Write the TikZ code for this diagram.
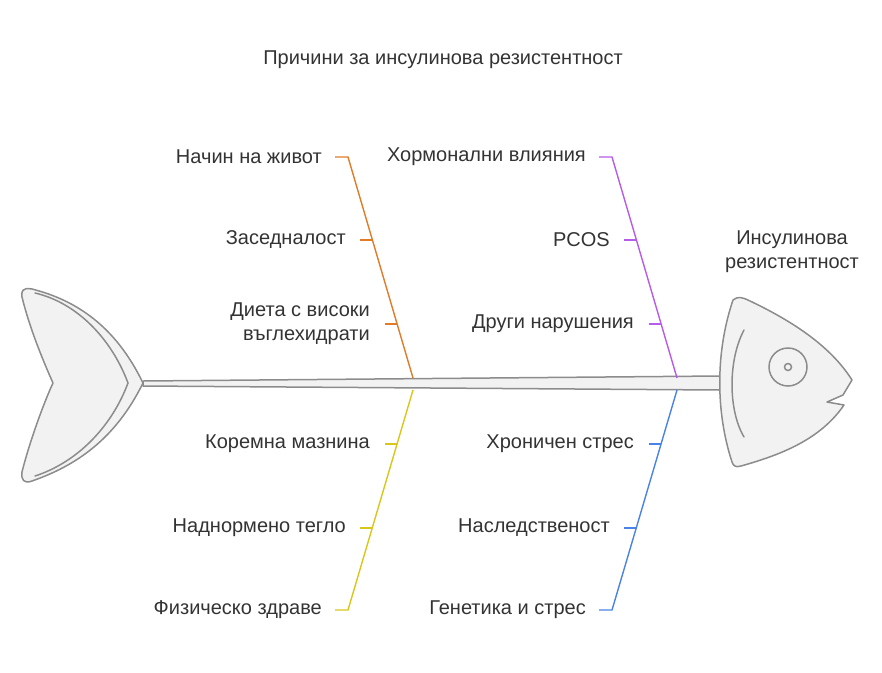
\documentclass[tikz,border=0pt]{standalone}
\usepackage{fontspec}
\setmainfont{Liberation Sans}
\begin{document}
\begin{tikzpicture}[x=1pt,y=-1pt,
  fish/.style={draw=black!45,fill=black!5,line width=1.5pt,line join=round},
  fline/.style={draw=black!45,line width=1.5pt,line cap=round},
  lbl/.style={font=\fontsize{20}{24}\selectfont,text=black!80,align=right,inner sep=0pt},
  lblr/.style={lbl,anchor=east},
  bone/.style={line width=1.4pt}]
\definecolor{cor}{HTML}{E07B28}
\definecolor{cpu}{HTML}{B65CE8}
\definecolor{cye}{HTML}{D9C61A}
\definecolor{cbl}{HTML}{4B82E6}
\useasboundingbox (0,0) rectangle (882,672);
\node[lbl,anchor=center] (title) at (443,60) {Причини за инсулинова резистентност};
% spine
\path[fish] (143,381) -- (720,376) -- (720,390) -- (143,386) -- cycle;
% tail
\path[fish] (143,383) .. controls (115,325) and (75,300) .. (32,289)
  .. controls (22,287) and (21,292) .. (22,297)
  .. controls (30,330) and (45,365) .. (53,383)
  .. controls (45,400) and (30,440) .. (22,472)
  .. controls (21,480) and (24,484) .. (32,481)
  .. controls (75,466) and (115,440) .. cycle;
\draw[fline] (35,293) .. controls (78,303) and (112,340) .. (128,383) .. controls (112,426) and (78,462) .. (35,476);
% head
\path[fish] (733,300) .. controls (738,296) and (742,297) .. (750,301)
  .. controls (790,320) and (830,345) .. (852,380)
  -- (843,395) -- (827,402) -- (844,405)
  .. controls (820,440) and (780,455) .. (741,466)
  .. controls (735,468) and (733,465) .. (732,462)
  .. controls (715,410) and (716,350) .. cycle;
\draw[fline] (744,330) .. controls (728,360) and (728,410) .. (744,437);
\draw[fline] (788,367) circle (19);
\draw[fline] (788,367) circle (3.5);
% orange
\coordinate (o0) at (413,378);
\draw[cor,bone] (o0) -- (348,157) -- (335,157);
\draw[cor,bone] (360,240) -- (372,240);
\draw[cor,bone] (385,324) -- (397,324);
\node[lblr] (a1) at (322,157) {Начин на живот};
\node[lblr] (a2) at (346,240) {Заседналост};
\node[lblr] (a3) at (370,324) {Диета с високи\\въглехидрати};
% purple
\coordinate (p0) at (677,378);
\draw[cpu,bone] (p0) -- (612,157) -- (599,157);
\draw[cpu,bone] (624,240) -- (636,240);
\draw[cpu,bone] (649,324) -- (661,324);
\node[lblr] (b1) at (586,157) {Хормонални влияния};
\node[lblr] (b2) at (610,240) {PCOS};
\node[lblr] (b3) at (634,324) {Други нарушения};
% yellow
\coordinate (y0) at (413,390);
\draw[cye,bone] (y0) -- (348,610) -- (335,610);
\draw[cye,bone] (385,444) -- (397,444);
\draw[cye,bone] (360,528) -- (372,528);
\node[lblr] (c1) at (370,444) {Коремна мазнина};
\node[lblr] (c2) at (346,528) {Наднормено тегло};
\node[lblr] (c3) at (322,610) {Физическо здраве};
% blue
\coordinate (q0) at (677,390);
\draw[cbl,bone] (q0) -- (612,610) -- (599,610);
\draw[cbl,bone] (649,444) -- (661,444);
\draw[cbl,bone] (624,528) -- (636,528);
\node[lblr] (d1) at (634,444) {Хроничен стрес};
\node[lblr] (d2) at (610,528) {Наследственост};
\node[lblr] (d3) at (586,610) {Генетика и стрес};
% head label
\node[lbl,align=center,anchor=center] (h) at (792,252) {Инсулинова\\резистентност};
\end{tikzpicture}
\end{document}
